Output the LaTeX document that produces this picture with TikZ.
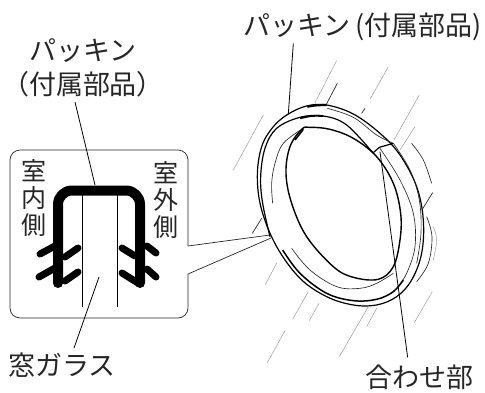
\documentclass[tikz,border=0pt]{standalone}
\usepackage{fontspec}
\newfontfamily\cjk{Noto Sans CJK JP}
\tikzset{
  lbl/.style={font=\cjk\fontsize{27}{29}\selectfont,text=black!85,inner sep=0pt},
  vlbl/.style={font=\cjk\fontsize{25}{27}\selectfont,text=black!85,inner sep=0pt,align=center},
  leader/.style={line width=0.8pt,black},
  seal/.style={line width=10pt,black,line join=round},
  lip/.style={line width=7pt,black,line cap=round},
  ringa/.style={line width=1.2pt,black},
  ringb/.style={line width=0.65pt,black!85},
  hatch/.style={line width=0.4pt,black!45},
  hatchd/.style={line width=0.7pt,black!85}
}
\begin{document}
\begin{tikzpicture}[x=1pt,y=-1pt]
\useasboundingbox (0,0) rectangle (485,392);
% labels
\node[lbl] (pa) at (83,51) {パッキン};
\node[lbl] (pb) at (83,84) {（付属部品）};
\node[lbl,anchor=west] (pc) at (243,27) {パッキン\hspace{5pt}(付属部品)};
\node[lbl] (win) at (62,365) {窓ガラス};
\node[lbl] (seam) at (419,377) {合わせ部};
% callout
\coordinate (tip1) at (270,235);
\coordinate (tip2) at (271,238);
\draw[line width=0.7pt,black!85,rounded corners=10pt] (188,246) -- (188,150) -- (10,150) -- (10,318) -- (188,318) -- (188,274);
\draw[line width=0.7pt,black!85] (188,246) -- (tip1) (188,274) -- (tip2);
\node[vlbl] (ins) at (34,198) {室\\内\\側};
\node[vlbl] (out) at (166,200) {室\\外\\側};
% seal section
\draw[seal,rounded corners=14pt] (58,283) -- (58,190.5) -- (140,190.5) -- (140,283);
\fill (58,283) circle (5pt) (140,283) circle (5pt);
\draw[lip] (40,254) -- (55,246) (65,257) -- (78,248);
\draw[lip] (39,277) -- (55,268) (65,281) -- (78,272);
\draw[lip] (122,248) -- (135,256) (147,246) -- (156,253);
\draw[lip] (122,273) -- (138,283) (147,269) -- (156,277);
\coordinate (g1a) at (82,195); \coordinate (g1b) at (82,307);
\coordinate (g2a) at (117,195); \coordinate (g2b) at (117,307);
\draw[line width=0.8pt] (g1a) -- (g1b) (g2a) -- (g2b);
% leaders
\coordinate (l1a) at (75,102); \coordinate (l1b) at (95,185);
\draw[leader] (l1a) -- (l1b);
\coordinate (l2a) at (99,277); \coordinate (l2b) at (74,348);
\draw[leader] (l2a) -- (l2b);
% ring, in zoom coordinates
\begin{scope}[shift={(220,40)},x=0.3333pt,y=-0.3333pt]
\coordinate (l3a) at (220,10); \coordinate (l3b) at (205,222);
\draw[leader] (l3a) -- (l3b);
\coordinate (l4a) at (480,335); \coordinate (l4b) at (563,952);
\draw[leader] (l4a) -- (l4b);
% outer
\draw[ringa] plot[smooth cycle,tension=0.6] coordinates {(205,222)(260,198)(320,195)(400,222)(480,280)(540,345)(590,440)(610,540)(605,640)(575,720)(530,770)(470,795)(400,795)(320,770)(240,715)(170,620)(125,510)(112,410)(125,320)(160,260)};
\draw[line width=2.2pt] plot[smooth,tension=0.6] coordinates {(262,200)(290,196)(320,195)};
\draw[ringb] plot[smooth,tension=0.6] coordinates {(322,205)(400,232)(470,285)(520,310)};
% second outer contour
\draw[ringa] plot[smooth,tension=0.6] coordinates {(150,590)(128,490)(122,410)(135,325)(170,265)(240,232)(310,228)(380,255)(460,340)};
\draw[line width=1.8pt] plot[smooth,tension=0.6] coordinates {(240,235)(275,228)(310,228)};
% thin inner band
\draw[ringb] plot[smooth,tension=0.6] coordinates {(158,490)(155,430)(165,370)(190,310)(250,265)};
\draw[ringb] plot[smooth,tension=0.6] coordinates {(215,625)(270,690)(350,740)(420,745)(470,730)(520,700)};
\draw[ringb] plot[smooth,tension=0.6] coordinates {(480,325)(540,420)(580,520)(585,620)(560,700)(530,745)};
\draw[ringb] plot[smooth,tension=0.6] coordinates {(520,310)(570,390)(598,480)(603,580)(590,670)};
% bottom heavy band
\draw[line width=1.5pt] plot[smooth,tension=0.6] coordinates {(188,630)(240,700)(320,760)(400,782)(470,778)(520,755)(550,720)};
% hole
\draw[line width=1.4pt] plot[smooth cycle,tension=0.6] coordinates {(245,268)(210,320)(198,400)(215,490)(260,590)(340,680)(400,712)(475,718)(520,680)(540,600)(542,520)(520,430)(470,350)(400,295)(330,268)(270,262)};
\draw[line width=1.6pt] (225,300) -- (250,268);
% seam
\draw[line width=1.2pt] (460,338) -- (478,322) -- (520,310);
% right outer arcs
\draw[ringb] plot[smooth,tension=0.6] coordinates {(620,530)(636,590)(625,670)(590,725)};
\draw[hatch] plot[smooth,tension=0.6] coordinates {(640,560)(650,600)(640,660)};
\draw[ringb] plot[smooth,tension=0.6] coordinates {(575,310)(610,360)(635,430)};
% hatches
\draw[hatch] (350,62) -- (285,188) (505,80) -- (450,178) (598,165) -- (522,300)
  (585,260) -- (540,330) (130,225) -- (40,390) (170,670) -- (135,735) (297,790) -- (268,842)
  (637,755) -- (583,848) (195,872) -- (142,968) (470,805) -- (440,860) (265,755) -- (218,838)
  (445,800) -- (358,950);
\draw[hatchd] (352,130) -- (318,195) (435,205) -- (425,220) (638,458) -- (607,508) (125,535) -- (97,580);
\end{scope}
\end{tikzpicture}
\end{document}
